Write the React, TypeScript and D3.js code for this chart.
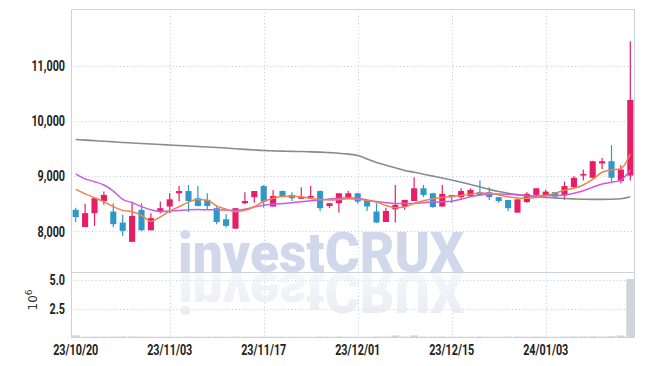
import React from 'react';
import * as d3 from 'd3';

// trading days (KRX), 23/10/20 .. 24/01/16
const dates = [
  '23/10/20', '23/10/23', '23/10/24', '23/10/25', '23/10/26', '23/10/27', '23/10/30', '23/10/31',
  '23/11/01', '23/11/02', '23/11/03', '23/11/06', '23/11/07', '23/11/08', '23/11/09', '23/11/10',
  '23/11/13', '23/11/14', '23/11/15', '23/11/16', '23/11/17', '23/11/20', '23/11/21', '23/11/22',
  '23/11/23', '23/11/24', '23/11/27', '23/11/28', '23/11/29', '23/11/30', '23/12/01', '23/12/04',
  '23/12/05', '23/12/06', '23/12/07', '23/12/08', '23/12/11', '23/12/12', '23/12/13', '23/12/14',
  '23/12/15', '23/12/18', '23/12/19', '23/12/20', '23/12/21', '23/12/22', '23/12/26', '23/12/27',
  '23/12/28', '24/01/02', '24/01/03', '24/01/04', '24/01/05', '24/01/08', '24/01/09', '24/01/10',
  '24/01/11', '24/01/12', '24/01/15', '24/01/16',
];

const opens = [
  8390, 8080, 8330, 8550, 8360, 8160, 7810, 8390, 8020, 8360,
  8450, 8690, 8730, 8600, 8570, 8420, 8220, 8050, 8510, 8620,
  8820, 8450, 8730, 8660, 8590, 8610, 8730, 8460, 8510, 8620,
  8690, 8550, 8360, 8170, 8400, 8450, 8550, 8780, 8690, 8450,
  8660, 8620, 8640, 8710, 8710, 8620, 8570, 8340, 8530, 8660,
  8660, 8710, 8650, 8800, 9010, 8970, 9230, 9270, 8910, 9010,
];
const highs = [
  8430, 8500, 8600, 8720, 8510, 8300, 8540, 8510, 8330, 8540,
  8690, 8820, 8840, 8820, 8690, 8450, 8310, 8420, 8710, 8730,
  8840, 8750, 8740, 8710, 8800, 8820, 8740, 8510, 8690, 8730,
  8700, 8560, 8510, 8430, 8840, 8570, 8980, 8840, 8700, 8840,
  8660, 8780, 8780, 8920, 8800, 8620, 8570, 8580, 8710, 8780,
  8760, 8710, 8900, 9000, 9120, 9280, 9330, 9560, 9200, 11440,
];
const lows = [
  8170, 8080, 8100, 8480, 8080, 7910, 7810, 8010, 8020, 8330,
  8330, 8540, 8350, 8450, 8390, 8130, 8070, 8050, 8490, 8520,
  8430, 8450, 8630, 8550, 8590, 8610, 8370, 8420, 8340, 8600,
  8500, 8370, 8150, 8170, 8160, 8390, 8550, 8620, 8430, 8450,
  8510, 8570, 8630, 8640, 8570, 8520, 8370, 8340, 8520, 8640,
  8630, 8600, 8570, 8780, 8920, 8960, 9130, 8900, 8870, 8920,
];
const closes = [
  8260, 8330, 8600, 8660, 8130, 8010, 8280, 8020, 8240, 8420,
  8580, 8730, 8550, 8460, 8460, 8170, 8100, 8420, 8550, 8730,
  8540, 8640, 8640, 8600, 8620, 8640, 8420, 8510, 8690, 8690,
  8540, 8450, 8160, 8370, 8480, 8570, 8780, 8660, 8440, 8680,
  8620, 8730, 8750, 8660, 8620, 8550, 8420, 8580, 8680, 8780,
  8720, 8630, 8820, 8970, 9040, 9270, 9270, 8970, 9120, 10380,
];
// volume, millions of shares
const volumes = [
  0.15, 0.03, 0.04, 0.03, 0.04, 0.05, 0.05, 0.04, 0.03, 0.03,
  0.04, 0.03, 0.04, 0.03, 0.03, 0.04, 0.03, 0.04, 0.03, 0.03,
  0.04, 0.03, 0.02, 0.03, 0.03, 0.02, 0.04, 0.03, 0.04, 0.03,
  0.03, 0.03, 0.05, 0.04, 0.14, 0.04, 0.14, 0.04, 0.04, 0.04,
  0.03, 0.03, 0.03, 0.04, 0.03, 0.03, 0.04, 0.04, 0.03, 0.04,
  0.03, 0.03, 0.04, 0.05, 0.05, 0.06, 0.05, 0.08, 0.13, 5.1,
];
const ma5 = [
  8760, 8680, 8610, 8540, 8450, 8380, 8355, 8290, 8180, 8264,
  8370, 8446, 8530, 8575, 8565, 8460, 8400, 8355, 8380, 8446,
  8540, 8600, 8630, 8640, 8625, 8598, 8575, 8567, 8575, 8590,
  8580, 8560, 8530, 8470, 8430, 8440, 8510, 8555, 8590, 8615,
  8630, 8650, 8670, 8695, 8690, 8660, 8625, 8605, 8600, 8612,
  8650, 8690, 8745, 8780, 8840, 8940, 9070, 9110, 9135, 9400,
];
const ma20 = [
  9040, 8950, 8900, 8840, 8730, 8580, 8520, 8450, 8390, 8360,
  8370, 8380, 8390, 8395, 8390, 8390, 8385, 8380, 8400, 8440,
  8475, 8490, 8505, 8518, 8535, 8554, 8570, 8585, 8598, 8610,
  8600, 8570, 8540, 8520, 8507, 8505, 8507, 8520, 8530, 8535,
  8545, 8580, 8627, 8655, 8675, 8675, 8670, 8660, 8645, 8640,
  8645, 8650, 8658, 8690, 8736, 8800, 8857, 8890, 8929, 9110,
];
const ma120 = [
  9663, 9652, 9642, 9632, 9620, 9609, 9600, 9590, 9582, 9572,
  9563, 9555, 9545, 9536, 9527, 9518, 9508, 9496, 9485, 9474,
  9464, 9458, 9453, 9449, 9445, 9440, 9434, 9425, 9415, 9398,
  9373, 9310, 9246, 9198, 9150, 9101, 9070, 9035, 9000, 8965,
  8929, 8890, 8850, 8805, 8760, 8721, 8690, 8665, 8645, 8628,
  8616, 8605, 8595, 8588, 8583, 8580, 8580, 8582, 8590, 8627,
];

const priceTicks = [8000, 9000, 10000, 11000];
const volumeTicks = [2.5, 5.0];
const dateTicks = ['23/10/20', '23/11/03', '23/11/17', '23/12/01', '23/12/15', '24/01/03'];

const UP = '#e71d67';
const DOWN = '#3097c9';
const GRID = '#c3c9de';
const BORDER = '#d0d0d8';
const LABEL_FONT = 'Roboto, "Liberation Sans", sans-serif';

const left = 71;
const right = 635;
const priceTop = 9;
const priceBottom = 272;
const volBottom = 337;

export default function App() {
  const idx = d3.range(dates.length);
  const x = d3.scaleBand<number>().domain(idx).range([left, right]).paddingInner(0.35).paddingOuter(0.175);
  const cx = (i: number) => (x(i) as number) + x.bandwidth() / 2;
  const y = d3.scaleLinear().domain([7265, 12025]).range([priceBottom, priceTop]);
  const yv = d3.scaleLinear().domain([0, 5.72]).range([volBottom, priceBottom]);

  const line = d3.line<number>().x((d, i) => cx(i)).y(d => y(d)).curve(d3.curveMonotoneX);
  const fmt = d3.format(',');

  const tickLabel = (tx: number, ty: number, s: string, anchor: string, key: string) => (
    <text key={key} transform={`translate(${tx},${ty}) scale(0.72,1)`} textAnchor={anchor}
      fontFamily={LABEL_FONT} fontWeight={700} fontSize={15} fill="#222" dy="0.35em">{s}</text>
  );

  return (
    <svg width={645} height={366} style={{ position: 'absolute', left: 0, top: 0, background: '#fff' }}>
      <defs>
        <linearGradient id="refl" x1="0" y1="0" x2="0" y2="1">
          <stop offset="0" stopColor="#e3e7f0" stopOpacity={0.9} />
          <stop offset="1" stopColor="#f1f2f6" stopOpacity={0.5} />
        </linearGradient>
        <clipPath id="pricebox"><rect x={left} y={priceTop} width={right - left} height={priceBottom - priceTop} /></clipPath>
      </defs>

      {/* grid */}
      <g stroke={GRID} strokeWidth={1} strokeDasharray="1,2.5">
        {priceTicks.map(t => <line key={t} x1={left} x2={right} y1={Math.round(y(t)) + 0.5} y2={Math.round(y(t)) + 0.5} />)}
        {volumeTicks.map(t => <line key={t} x1={left} x2={right} y1={Math.round(yv(t)) + 0.5} y2={Math.round(yv(t)) + 0.5} />)}
        {dateTicks.slice(1).map(d => {
          const xx = Math.round(cx(dates.indexOf(d))) + 0.5;
          return <line key={d} x1={xx} x2={xx} y1={priceTop} y2={volBottom} />;
        })}
      </g>

      {/* watermark */}
      <g fontFamily="Roboto, sans-serif" fontWeight={900} fontSize={55}>
        <text x={178} y={272} textLength={286} lengthAdjust="spacingAndGlyphs" fill="#d2d8eb">investCRUX</text>
        <text x={178} y={-273} transform="scale(1,-1)" textLength={286} lengthAdjust="spacingAndGlyphs" fill="url(#refl)">investCRUX</text>
      </g>

      {/* volume */}
      <g fill="#d3d3db">
        {volumes.map((v, i) => (
          <rect key={i} x={(x(i) as number) - 1} width={x.bandwidth() + 2} y={yv(v)} height={volBottom - yv(v)} />
        ))}
      </g>

      {/* candles */}
      <g clipPath="url(#pricebox)">
        {idx.map(i => {
          const up = closes[i] >= opens[i];
          const c = up ? UP : DOWN;
          const top = y(Math.max(opens[i], closes[i]));
          const bot = y(Math.min(opens[i], closes[i]));
          return (
            <g key={i}>
              <line x1={cx(i)} x2={cx(i)} y1={y(highs[i])} y2={y(lows[i])} stroke={c} strokeWidth={1.2} />
              <rect x={x(i)} width={x.bandwidth()} y={top} height={Math.max(1.5, bot - top)} fill={c} />
            </g>
          );
        })}
        <path d={line(ma120) || ''} fill="none" stroke="#8a8a8a" strokeWidth={1.6} />
        <path d={line(ma20) || ''} fill="none" stroke="#cc5ae6" strokeWidth={1.5} />
        <path d={line(ma5) || ''} fill="none" stroke="#ef8449" strokeWidth={1.5} />
      </g>

      {/* frames */}
      <g fill="none" stroke={BORDER} strokeWidth={1}>
        <rect x={left + 0.5} y={priceTop + 0.5} width={right - left - 1} height={priceBottom - priceTop} />
        <rect x={left + 0.5} y={priceBottom + 0.5} width={right - left - 1} height={volBottom - priceBottom} />
      </g>

      {/* axis labels */}
      {priceTicks.map(t => tickLabel(65, y(t), fmt(t), 'end', 'p' + t))}
      {volumeTicks.map(t => tickLabel(65, yv(t), d3.format('.1f')(t), 'end', 'v' + t))}
      {dateTicks.map(d => tickLabel(cx(dates.indexOf(d)), 350, d, 'middle', 'd' + d))}
      <text transform="translate(37,300) rotate(-90)" textAnchor="middle" fontFamily="DejaVu Sans, sans-serif"
        fontSize={12} fill="#333">10<tspan dy={-5} fontSize={9}>6</tspan></text>
    </svg>
  );
}
